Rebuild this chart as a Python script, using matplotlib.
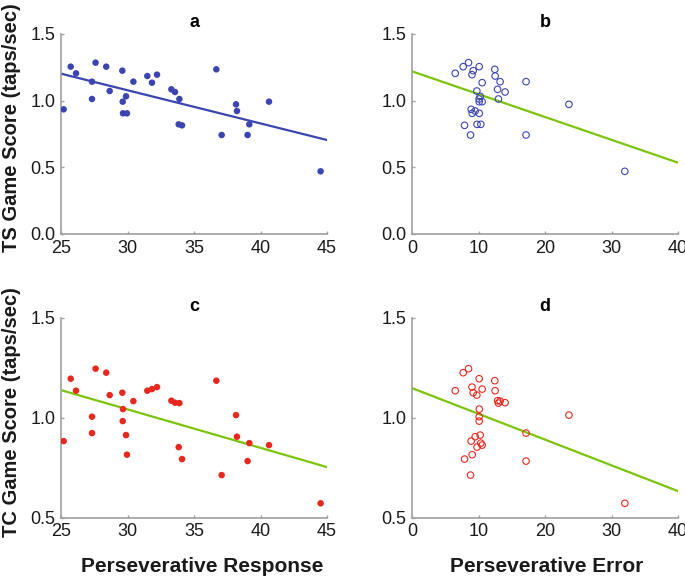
import numpy as np
import matplotlib
matplotlib.use('Agg')
from matplotlib import pyplot as plt

# one entry per subject: perseverative response, perseverative error, TS and TC game scores
pr = [25.2, 25.73, 26.13, 27.6, 28.4, 27.33, 27.33, 28.66, 29.61, 29.64,
      29.66, 29.89, 29.96, 30.44, 31.49, 31.84, 32.22, 33.3, 33.57, 33.9,
      33.85, 34.1, 36.68, 37.08, 38.16, 38.23, 39.03, 39.16, 40.64, 44.52]
pe = [8.9, 10.1, 6.5, 8.5, 7.7, 17.15, 10.1, 9.75, 9.2, 10.1,
      10.12, 10.25, 9.05, 13.25, 12.5, 10.55, 9.02, 12.87, 14.0, 13.0,
      9.78, 7.9, 12.45, 8.8, 23.6, 9.5, 17.15, 10.35, 10.55, 32.0]
ts = [0.935, 1.255, 1.205, 1.285, 1.255, 1.1425, 1.0125, 1.0725, 1.225, 0.9925,
      0.905, 1.0325, 0.905, 1.1425, 1.185, 1.135, 1.195, 1.085, 1.065, 1.0125,
      0.8225, 0.815, 1.235, 0.7425, 0.9725, 0.9225, 0.7425, 0.8225, 0.9925, 0.47]
tc = [0.883, 1.195, 1.135, 1.245, 1.225, 0.923, 1.005, 1.113, 1.125, 0.983,
      1.043, 0.913, 0.815, 1.083, 1.135, 1.143, 1.153, 1.085, 1.075, 1.073,
      0.853, 0.793, 1.185, 0.713, 1.013, 0.905, 0.783, 0.873, 0.863, 0.572]

# regression lines (value at each end of the x range)
pr_range = [25, 45]
pe_range = [0, 40]
ts_pr_fit = [1.2025, 0.705]
ts_pe_fit = [1.22, 0.535]
tc_pr_fit = [1.138, 0.753]
tc_pe_fit = [1.148, 0.633]

BLUE = '#3b45b0'
RED = '#e8281e'
GREEN = '#7cc40c'
GRAY = '#a0a0a0'
INK = '#1a1a1a'

plt.rcParams['font.family'] = ['Liberation Sans', 'DejaVu Sans']

fig = plt.figure(figsize=(6.85, 5.77), dpi=100)
w, h = 266 / 685, 200 / 577
lefts = [61 / 685, 412 / 685]
bottoms = [1 - 234 / 577, 1 - 517.7 / 577]

panels = [
    ('a', pr, ts, pr_range, ts_pr_fit, BLUE, BLUE, True, (0, 1.5)),
    ('b', pe, ts, pe_range, ts_pe_fit, BLUE, GREEN, False, (0, 1.5)),
    ('c', pr, tc, pr_range, tc_pr_fit, RED, GREEN, True, (0.5, 1.5)),
    ('d', pe, tc, pe_range, tc_pe_fit, RED, GREEN, False, (0.5, 1.5)),
]

for i, (name, x, y, xr, fit, col, lcol, filled, ylim) in enumerate(panels):
    ax = fig.add_axes([lefts[i % 2], bottoms[i // 2], w, h])
    if filled:
        ax.scatter(x, y, s=22, color=col, edgecolors='none', zorder=3)
    else:
        ax.scatter(x, y, s=22, facecolors='none', edgecolors=col, linewidths=0.8, zorder=3)
    ax.plot(xr, fit, color=lcol, lw=1.6, zorder=2)
    ax.set_xlim(xr)
    ax.set_ylim(ylim)
    ax.set_xticks(np.arange(xr[0], xr[1] + 1, 5 if xr[0] == 25 else 10))
    ax.set_yticks(np.arange(ylim[0], 1.51, 0.5))
    ax.yaxis.set_major_formatter(matplotlib.ticker.FormatStrFormatter('%.1f'))
    for s in ['top', 'right']:
        ax.spines[s].set_visible(False)
    for s in ['left', 'bottom']:
        ax.spines[s].set_color(GRAY)
        ax.spines[s].set_linewidth(1.2)
    ax.tick_params(direction='in', length=2.5, width=1, color=GRAY,
                   labelsize=13, pad=4, labelcolor=INK)
    ax.set_title(name, fontsize=13, fontweight='bold', pad=5)

fig.text(0.017, 1 - 128 / 577, 'TS Game Score (taps/sec)', rotation=90,
         ha='center', va='center', fontsize=14.5, fontweight='bold', color=INK)
fig.text(0.017, 1 - 412 / 577, 'TC Game Score (taps/sec)', rotation=90,
         ha='center', va='center', fontsize=14.5, fontweight='bold', color=INK)
fig.text(202 / 685, 1 - 566 / 577, 'Perseverative Response', ha='center', va='center',
         fontsize=15, fontweight='bold', color=INK)
fig.text(547 / 685, 1 - 566 / 577, 'Perseverative Error', ha='center', va='center',
         fontsize=15, fontweight='bold', color=INK)

fig.savefig('out.png', dpi=100)
